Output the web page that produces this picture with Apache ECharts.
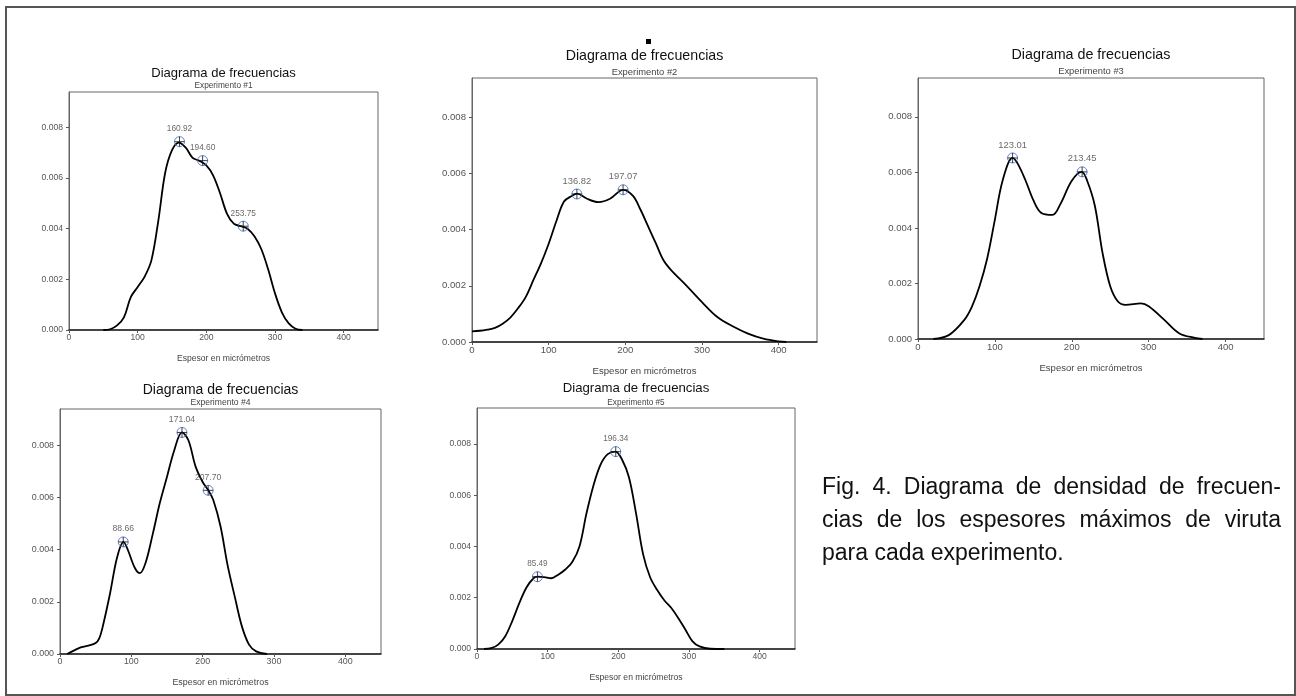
<!DOCTYPE html>
<html>
<head>
<meta charset="utf-8">
<title>Diagrama de frecuencias</title>
<script src="https://cdn.jsdelivr.net/npm/echarts@6/dist/echarts.min.js"></script>
<style>
html, body { margin: 0; padding: 0; background: #fff; }
#echarts { width: 1296px; height: 696px; }
</style>
</head>
<body>
<div id="echarts"></div>
<script>
// curvas de densidad (x en micrometros)
var x1 = [50,60,70,80,90,100,110,120,130,140,150,160,170,180,190,200,210,220,230,240,250,260,270,280,290,300,310,320,330,340];
var y1 = [0,0.00003,0.00018,0.0005,0.0013,0.0017,0.0021,0.00275,0.0043,0.0062,0.0071,0.0074,0.0072,0.0068,0.00668,0.0065,0.0061,0.0054,0.0046,0.0042,0.0041,0.0040,0.0037,0.0032,0.0024,0.00145,0.0007,0.00026,0.00005,0];

var x2 = [0,10,20,30,40,50,60,70,80,90,100,110,120,130,137,150,165,180,197,210,220,230,240,250,260,280,300,320,340,360,380,400,410];
var y2 = [0.00038,0.0004,0.00044,0.0005,0.00065,0.00087,0.0012,0.0016,0.0022,0.0028,0.0035,0.0043,0.0050,0.0052,0.00528,0.0051,0.00498,0.0051,0.00542,0.0052,0.0047,0.0041,0.0035,0.0029,0.00255,0.002,0.00142,0.00089,0.00056,0.0003,0.00012,0.00002,0];

var x3 = [20,40,60,70,80,90,100,110,123,130,140,150,160,175,185,200,213,220,230,240,250,260,270,290,300,320,340,360,370];
var y3 = [0,0.00014,0.00068,0.00116,0.0019,0.0029,0.0043,0.0057,0.00652,0.0063,0.0057,0.005,0.00455,0.00447,0.00485,0.0057,0.00602,0.0057,0.0048,0.0031,0.0019,0.00135,0.00123,0.00128,0.00118,0.0007,0.0002,0.00004,0];

var x4 = [10,20,30,40,50,55,60,70,80,89,95,105,112,120,130,140,150,160,171,180,190,200,208,215,225,235,245,255,265,275,290];
var y4 = [0,0.00014,0.00026,0.00032,0.00042,0.0006,0.00106,0.0023,0.0037,0.0043,0.004,0.0033,0.0031,0.0035,0.0046,0.0058,0.0068,0.0078,0.0085,0.0082,0.0072,0.0066,0.00628,0.0059,0.0049,0.0034,0.0022,0.00106,0.00036,0.0001,0];

var x5 = [10,20,30,40,50,60,70,80,86,95,105,115,125,135,145,155,165,175,185,196,205,215,225,235,245,255,265,275,285,295,305,315,330,350];
var y5 = [0,0.00003,0.00017,0.0005,0.0011,0.0018,0.0024,0.00276,0.00282,0.0028,0.00276,0.0029,0.0031,0.0034,0.004,0.0053,0.0064,0.0072,0.0076,0.0077,0.0074,0.0067,0.0053,0.0037,0.0028,0.0023,0.0019,0.0016,0.0012,0.00075,0.0003,0.0001,0.00001,0];

// modas marcadas
var picosX1 = [160.92, 194.60, 253.75], picosY1 = [0.00744, 0.00669, 0.0041];
var picosX2 = [136.82, 197.07], picosY2 = [0.00527, 0.00542];
var picosX3 = [123.01, 213.45], picosY3 = [0.00652, 0.00602];
var picosX4 = [88.66, 171.04, 207.70], picosY4 = [0.0043, 0.0085, 0.00628];
var picosX5 = [85.49, 196.34], picosY5 = [0.00282, 0.0077];

var xTicks = [0, 100, 200, 300, 400];
var yTicks = [0, 0.002, 0.004, 0.006, 0.008];
var xMax = 450, yMax = 0.0094;

var titulo = 'Diagrama de frecuencias';
var subtitulos = ['Experimento #1', 'Experimento #2', 'Experimento #3', 'Experimento #4', 'Experimento #5'];
var ejeX = 'Espesor en micrómetros';
var leyenda = ['Fig. 4. Diagrama de densidad de frecuen-',
               'cias de los espesores máximos de viruta',
               'para cada experimento.'];

var curvasX = [x1, x2, x3, x4, x5], curvasY = [y1, y2, y3, y4, y5];
var picosX = [picosX1, picosX2, picosX3, picosX4, picosX5];
var picosY = [picosY1, picosY2, picosY3, picosY4, picosY5];

// ubicacion de cada panel
var paneles = [
  {left: 69,  top: 92,  width: 309, height: 238, tY: 73,  sY: 86,  fT: 13,   fS: 8.3, fL: 8.6},
  {left: 472, top: 78,  width: 345, height: 264, tY: 56,  sY: 72,  fT: 14.2, fS: 9.4, fL: 9.6},
  {left: 918, top: 78,  width: 346, height: 261, tY: 55,  sY: 71,  fT: 14.3, fS: 9.4, fL: 9.5},
  {left: 60,  top: 409, width: 321, height: 245, tY: 390, sY: 403, fT: 14,   fS: 8.6, fL: 8.9},
  {left: 477, top: 408, width: 318, height: 241, tY: 388, sY: 403, fT: 13.2, fS: 8.2, fL: 8.6}
];

var fuente = '"Liberation Sans", Arial, sans-serif';
var myChart = echarts.init(document.getElementById('echarts'));

var grids = [], xAxes = [], yAxes = [], series = [], graficos = [];

paneles.forEach(function (p, i) {
  grids.push({left: p.left, top: p.top, width: p.width, height: p.height,
    show: true, borderColor: '#666', borderWidth: 1, backgroundColor: '#fff'});
  xAxes.push({
    gridIndex: i, type: 'value', min: 0, max: xMax,
    name: ejeX, nameLocation: 'middle', nameGap: 24,
    nameTextStyle: {color: '#444', fontSize: p.fL, fontFamily: fuente},
    axisLine: {lineStyle: {color: '#222', width: 1.5}},
    axisTick: {length: 3, lineStyle: {color: '#555'}, customValues: xTicks},
    axisLabel: {color: '#555', fontSize: p.fL, fontFamily: fuente, margin: 3, customValues: xTicks},
    splitLine: {show: false}
  });
  yAxes.push({
    gridIndex: i, type: 'value', min: 0, max: yMax,
    axisLine: {show: true, lineStyle: {color: '#666'}},
    axisTick: {length: 3, lineStyle: {color: '#555'}, customValues: yTicks},
    axisLabel: {color: '#555', fontSize: p.fL, fontFamily: fuente, margin: 6, customValues: yTicks,
      formatter: function (v) { return v.toFixed(3); }},
    splitLine: {show: false}
  });

  var curva = curvasX[i].map(function (x, k) { return [x, curvasY[i][k]]; });
  var picos = picosX[i].map(function (x, k) { return [x, picosY[i][k]]; });

  series.push({
    type: 'line', xAxisIndex: i, yAxisIndex: i, data: curva,
    smooth: 0.35, showSymbol: false,
    lineStyle: {color: '#000', width: 1.8}
  });
  series.push({
    type: 'scatter', xAxisIndex: i, yAxisIndex: i, data: picos,
    symbol: 'circle', symbolSize: 10, z: 4,
    itemStyle: {color: 'rgba(0,0,0,0)', borderColor: '#3d66c8', borderWidth: 1},
    label: {show: true, position: 'top', distance: 3, color: '#444', fontSize: p.fS, fontFamily: fuente,
      formatter: function (d) { return d.value[0].toFixed(2); }}
  });
  series.push({
    type: 'scatter', xAxisIndex: i, yAxisIndex: i, data: picos,
    symbol: 'path://M5 0L5 10M0 5L10 5', symbolSize: 10, z: 5,
    itemStyle: {color: 'none', borderColor: '#111', borderWidth: 1}
  });

  var cx = p.left + p.width / 2;
  graficos.push({type: 'text', x: cx, y: p.tY,
    style: {text: titulo, fill: '#111', font: p.fT + 'px ' + fuente, textAlign: 'center', textVerticalAlign: 'middle'}});
  graficos.push({type: 'text', x: cx, y: p.sY,
    style: {text: subtitulos[i], fill: '#444', font: p.fS + 'px ' + fuente, textAlign: 'center', textVerticalAlign: 'middle'}});
});

// marco y pequeño cuadro negro
graficos.push({type: 'rect', shape: {x: 6, y: 7, width: 1289, height: 688},
  style: {fill: 'none', stroke: '#555', lineWidth: 2}, silent: true});
graficos.push({type: 'rect', shape: {x: 646, y: 39, width: 5, height: 5}, style: {fill: '#000'}});

// leyenda justificada palabra por palabra
var fLeyenda = '23px ' + fuente;
var ctx = document.createElement('canvas').getContext('2d');
ctx.font = fLeyenda;
var xIni = 822, xFin = 1281, lineasY = [488, 521, 554];
leyenda.forEach(function (linea, j) {
  var palabras = linea.split(' ');
  var anchos = palabras.map(function (w) { return ctx.measureText(w).width; });
  var total = anchos.reduce(function (a, b) { return a + b; }, 0);
  var hueco = ctx.measureText(' ').width;
  if (j < leyenda.length - 1) hueco = (xFin - xIni - total) / (palabras.length - 1);
  var x = xIni;
  palabras.forEach(function (w, k) {
    graficos.push({type: 'text', x: x, y: lineasY[j],
      style: {text: w, fill: '#111', font: fLeyenda, textAlign: 'left', textVerticalAlign: 'middle'}});
    x += anchos[k] + hueco;
  });
});

option = {
  backgroundColor: '#fff',
  animation: false,
  grid: grids,
  xAxis: xAxes,
  yAxis: yAxes,
  series: series,
  graphic: graficos
};
myChart.setOption(option);
</script>
</body>
</html>
